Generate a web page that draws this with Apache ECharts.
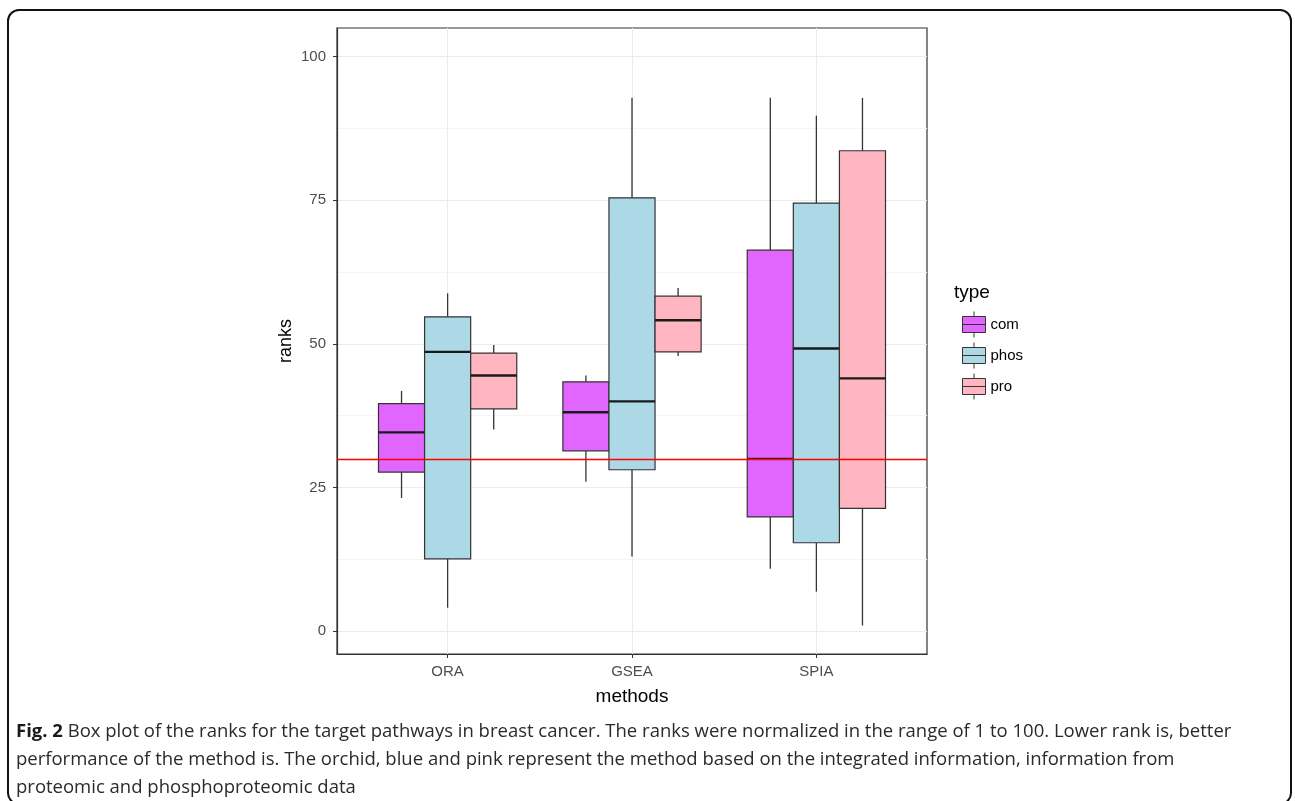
<!DOCTYPE html>
<html>
<head>
<meta charset="utf-8">
<script src="https://cdn.jsdelivr.net/npm/echarts@6/dist/echarts.min.js"></script>
<style>html,body{margin:0;padding:0;background:#fff;}#c{width:1295px;height:801px;}</style>
</head>
<body>
<div id="c"></div>
<script>
// ---- data ----
const methods = ['ORA', 'GSEA', 'SPIA'];
const types = ['com', 'phos', 'pro'];
// each row: [lower whisker, Q1, median, Q3, upper whisker] for ORA, GSEA, SPIA
const comStats  = [[23.2, 27.7, 34.6, 39.6, 41.8], [26.0, 31.4, 38.1, 43.4, 44.5], [10.9, 19.9, 30.0, 66.3, 92.8]];
const phosStats = [[4.1, 12.6, 48.6, 54.7, 58.8], [13.0, 28.1, 40.0, 75.4, 92.8], [6.9, 15.4, 49.2, 74.5, 89.7]];
const proStats  = [[35.1, 38.7, 44.5, 48.4, 49.8], [47.9, 48.6, 54.1, 58.3, 59.7], [1.0, 21.4, 44.0, 83.6, 92.8]];
const yTicks = [0, 25, 50, 75, 100];
const yMinorTicks = [12.5, 37.5, 62.5, 87.5];
const refLine = 30;
const colors = ['#E066FF', '#ADD8E6', '#FFB6C1'];

const allStats = [comStats, phosStats, proStats];
const dodge = [-0.25, 0, 0.25];
const halfW = 0.125;

function renderBox(params, api) {
  const si = params.seriesIndex;
  const c = api.value(0) + dodge[si];
  const lo = api.value(1), q1 = api.value(2), md = api.value(3), q3 = api.value(4), hi = api.value(5);
  const pL = (v) => api.coord([c - halfW, v]);
  const pR = (v) => api.coord([c + halfW, v]);
  const pC = (v) => api.coord([c, v]);
  const a = pL(q3), b = pR(q1);
  const stroke = '#333333';
  return {
    type: 'group',
    children: [
      { type: 'line', shape: { x1: pC(hi)[0], y1: pC(hi)[1], x2: pC(q3)[0], y2: pC(q3)[1] }, style: { stroke, lineWidth: 1.3 } },
      { type: 'line', shape: { x1: pC(q1)[0], y1: pC(q1)[1], x2: pC(lo)[0], y2: pC(lo)[1] }, style: { stroke, lineWidth: 1.3 } },
      { type: 'rect', shape: { x: a[0], y: a[1], width: b[0] - a[0], height: b[1] - a[1] }, style: { fill: colors[si], stroke, lineWidth: 1.2 } },
      { type: 'line', shape: { x1: pL(md)[0], y1: pL(md)[1], x2: pR(md)[0], y2: pR(md)[1] }, style: { stroke: '#1a1a1a', lineWidth: 2.4 } }
    ]
  };
}

const series = types.map((t, i) => ({
  name: t,
  type: 'custom',
  renderItem: renderBox,
  itemStyle: { color: colors[i] },
  encode: { x: 0, y: [1, 2, 3, 4, 5] },
  data: allStats[i].map((s, k) => [k].concat(s)),
  z: 3
}));
// reference line at rank 30
series.push({
  name: 'ref',
  type: 'line',
  data: [],
  silent: true,
  z: 6,
  markLine: {
    silent: true, symbol: ['none', 'none'], label: { show: false },
    lineStyle: { color: '#FF0000', type: 'solid', width: 1.4, opacity: 1 },
    emphasis: { disabled: true },
    data: [{ yAxis: refLine, lineStyle: { color: '#FF0000', type: 'solid', width: 1.4 } }]
  }
});

const boxIcon = 'path://M11.5,0L11.5,5M0,5L23,5L23,21L0,21ZM0,13L23,13M11.5,21L11.5,26';

const chart = echarts.init(document.getElementById('c'), null, { renderer: 'canvas' });
chart.setOption({
  backgroundColor: '#ffffff',
  animation: false,
  textStyle: { fontFamily: 'Liberation Sans, Arial, sans-serif' },
  grid: { left: 337, top: 28, right: 368, bottom: 147, show: true, borderColor: '#333333', borderWidth: 1.2, backgroundColor: 'transparent' },
  xAxis: {
    type: 'value', min: -0.6, max: 2.6,
    name: 'methods', nameLocation: 'middle', nameGap: 33,
    nameTextStyle: { color: '#000', fontSize: 19, fontFamily: 'Liberation Sans' },
    axisLine: { show: true, onZero: false, lineStyle: { color: '#333333', width: 1.2 } },
    axisTick: { show: true, length: 4, lineStyle: { color: '#333333' }, customValues: [0, 1, 2] },
    axisLabel: { color: '#4D4D4D', fontSize: 15, margin: 10, customValues: [0, 1, 2], formatter: (v) => methods[Math.round(v)] },
    splitLine: { show: true, lineStyle: { color: '#EBEBEB', width: 1 } }
  },
  yAxis: [{
    type: 'value', min: -3.95, max: 104.95,
    name: 'ranks', nameLocation: 'middle', nameGap: 42, nameRotate: 90,
    nameTextStyle: { color: '#000', fontSize: 18, fontFamily: 'Liberation Sans' },
    axisLine: { show: true, onZero: false, lineStyle: { color: '#333333', width: 1.2 } },
    axisTick: { show: true, length: 4, lineStyle: { color: '#333333' }, customValues: yTicks },
    axisLabel: { color: '#4D4D4D', fontSize: 15, margin: 11, customValues: yTicks },
    splitLine: { show: true, lineStyle: { color: '#EBEBEB', width: 1 } }
  }, {
    type: 'value', min: -3.95, max: 104.95, position: 'left',
    axisLine: { show: false, onZero: false }, axisLabel: { show: false },
    axisTick: { show: false, customValues: yMinorTicks },
    splitLine: { show: true, lineStyle: { color: '#F4F4F4', width: 1 } }
  }],
  legend: {
    orient: 'vertical', left: 957, top: 306,
    itemWidth: 23, itemHeight: 26, itemGap: 4,
    data: types.map((t) => ({ name: t, icon: boxIcon })),
    itemStyle: { borderColor: '#333333', borderWidth: 1 },
    textStyle: { color: '#000', fontSize: 15, fontFamily: 'Liberation Sans' },
    selectedMode: false
  },
  graphic: [
    { type: 'rect', shape: { x: 8, y: 10, width: 1283, height: 794, r: 11 }, style: { fill: 'none', stroke: '#111', lineWidth: 2 }, z: 100 },
    { type: 'text', left: 954, top: 283, style: { text: 'type', fill: '#000', font: '19px "Liberation Sans"' } },
    { type: 'text', left: 16, top: 718, style: {
        text: '{b|Fig. 2} Box plot of the ranks for the target pathways in breast cancer. The ranks were normalized in the range of 1 to 100. Lower rank is, better\nperformance of the method is. The orchid, blue and pink represent the method based on the integrated information, information from\nproteomic and phosphoproteomic data',
        fill: '#2a2a2a', font: '18.5px "Open Sans"', lineHeight: 28,
        rich: { b: { font: 'bold 18.5px "Open Sans"', fill: '#1a1a1a' } }
    } }
  ],
  series: series
});
</script>
</body>
</html>
